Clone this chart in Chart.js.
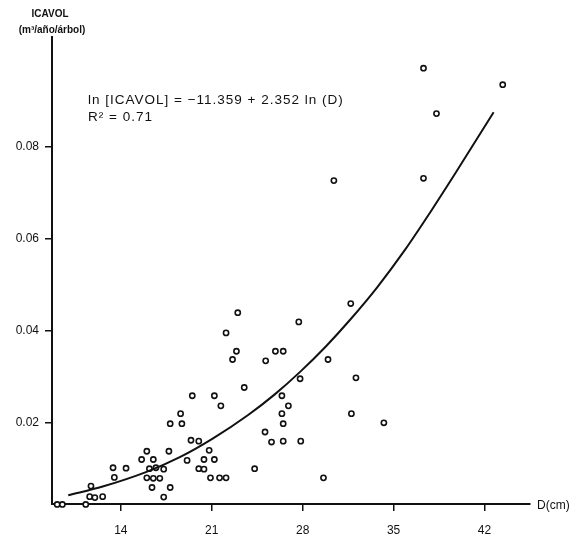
<!DOCTYPE html>
<html>
<head>
<meta charset="utf-8">
<script src="https://cdn.jsdelivr.net/npm/chart.js@4"></script>
<style>
  body { margin: 0; background: #fff; }
</style>
</head>
<body>
<canvas id="icavolChart" width="575" height="539"></canvas>
<script>
// diameter (cm) and ICAVOL (m3/año/árbol) of each tree
var diam = [9.1, 9.5, 11.3, 11.7, 11.6, 12.0, 12.6, 13.4, 14.4, 13.5,
  15.6, 16.5, 16.0, 17.7, 16.2, 16.7, 17.3, 16.0, 16.5, 17.0,
  16.4, 17.8, 17.3, 17.8, 18.7, 18.6, 19.5, 21.2, 21.7, 23.5,
  19.4, 20.0, 19.1, 20.4, 21.2, 20.8, 20.0, 20.4, 20.9, 21.6,
  22.1, 24.3, 26.4, 26.9, 26.4, 26.5, 25.1, 25.6, 26.5, 27.85,
  30.4, 31.7, 27.7, 25.9, 26.5, 25.15, 29.95, 27.8, 32.1, 31.75,
  34.25, 29.6, 23.0, 22.1, 22.9, 22.6, 37.3, 43.4, 38.3, 37.3];
var icavol = [0.0021, 0.0021, 0.0021, 0.0061, 0.0038, 0.0036, 0.0038, 0.0101, 0.0100, 0.0080,
  0.0119, 0.0119, 0.0137, 0.0137, 0.0099, 0.0101, 0.0098, 0.0079, 0.0078, 0.0078,
  0.0058, 0.0058, 0.0037, 0.0197, 0.0197, 0.0219, 0.0258, 0.0258, 0.0236, 0.0276,
  0.0161, 0.0159, 0.0117, 0.0119, 0.0119, 0.0139, 0.0099, 0.0098, 0.0079, 0.0079,
  0.0079, 0.0099, 0.0258, 0.0236, 0.0219, 0.0197, 0.0179, 0.0157, 0.0159, 0.0159,
  0.0727, 0.0459, 0.0419, 0.0355, 0.0355, 0.0334, 0.0337, 0.0295, 0.0297, 0.0219,
  0.0199, 0.0079, 0.0439, 0.0395, 0.0355, 0.0337, 0.0972, 0.0936, 0.0873, 0.0732];

// fitted curve as drawn in the figure
var fitD = [9.95, 12.6, 15.98, 18.54, 21.1, 23.8, 25.85, 27.8, 29.8, 31.6, 33.75, 35.9, 37.8, 39.8, 42.7];
var fitV = [0.0041, 0.0060, 0.0092, 0.0124, 0.0165, 0.0216, 0.0261, 0.0310, 0.0366, 0.0422, 0.0495, 0.0577, 0.0657, 0.0745, 0.0876];

var xTicks = [14, 21, 28, 35, 42];
var yTicks = [0.02, 0.04, 0.06, 0.08];
var yTickLabels = ['0.02', '0.04', '0.06', '0.08'];

var pts = diam.map(function (d, i) { return { x: d, y: icavol[i] }; });
var fit = fitD.map(function (d, i) { return { x: d, y: fitV[i] }; });

var font = '"Liberation Sans", Arial, sans-serif';

// labels that sit outside the axes + the equation text
var textPlugin = {
  id: 'texts',
  afterDraw: function (chart) {
    var c = chart.ctx;
    c.save();
    c.fillStyle = '#111';
    c.textBaseline = 'middle';
    c.textAlign = 'center';
    c.font = 'bold 10px ' + font;
    c.fillText('ICAVOL', 50, 14);
    c.fillText('(m³/año/árbol)', 52, 30);
    c.textAlign = 'left';
    c.font = '12px ' + font;
    c.fillText('D(cm)', 537, 506);
    c.font = '13.5px ' + font;
    c.letterSpacing = '1px';
    c.fillText('ln [ICAVOL] = \u221211.359 + 2.352 ln (D)', 88, 100);
    c.fillText('R\u00b2 = 0.71', 88, 117);
    c.restore();
  }
};

var ctx = document.getElementById('icavolChart').getContext('2d');
var chart = new Chart(ctx, {
  type: 'scatter',
  data: {
    datasets: [{
      label: 'fit',
      type: 'line',
      data: fit,
      borderColor: '#111',
      borderWidth: 2,
      pointRadius: 0,
      cubicInterpolationMode: 'monotone',
      fill: false
    }, {
      label: 'trees',
      data: pts,
      pointStyle: 'circle',
      pointRadius: 2.6,
      pointBorderWidth: 1.6,
      borderColor: '#111',
      backgroundColor: '#fff',
      clip: false
    }]
  },
  options: {
    responsive: false,
    animation: false,
    layout: { padding: { left: 0, top: 37, right: 45, bottom: 0 } },
    plugins: { legend: { display: false }, tooltip: { enabled: false } },
    scales: {
      x: {
        type: 'linear',
        min: 8.7,
        max: 45.5,
        afterFit: function (s) { s.height = 35; },
        afterBuildTicks: function (s) { s.ticks = xTicks.map(function (v) { return { value: v }; }); },
        grid: { display: true, drawOnChartArea: false, drawTicks: true, tickLength: 7, color: '#111', lineWidth: 1.5 },
        border: { display: true, color: '#111', width: 2 },
        ticks: { color: '#111', font: { family: font, size: 12 }, padding: 12, callback: function (v) { return String(v); } }
      },
      y: {
        type: 'linear',
        min: 0.0022,
        max: 0.104,
        afterFit: function (s) { s.width = 52; },
        afterBuildTicks: function (s) { s.ticks = yTicks.map(function (v) { return { value: v }; }); },
        grid: { display: true, drawOnChartArea: false, drawTicks: true, tickLength: 7, color: '#111', lineWidth: 1.5 },
        border: { display: true, color: '#111', width: 2 },
        ticks: {
          color: '#111', font: { family: font, size: 12 }, padding: 6,
          callback: function (v) { var i = yTicks.indexOf(v); return i >= 0 ? yTickLabels[i] : ''; }
        }
      }
    }
  },
  plugins: [textPlugin]
});
</script>
</body>
</html>
